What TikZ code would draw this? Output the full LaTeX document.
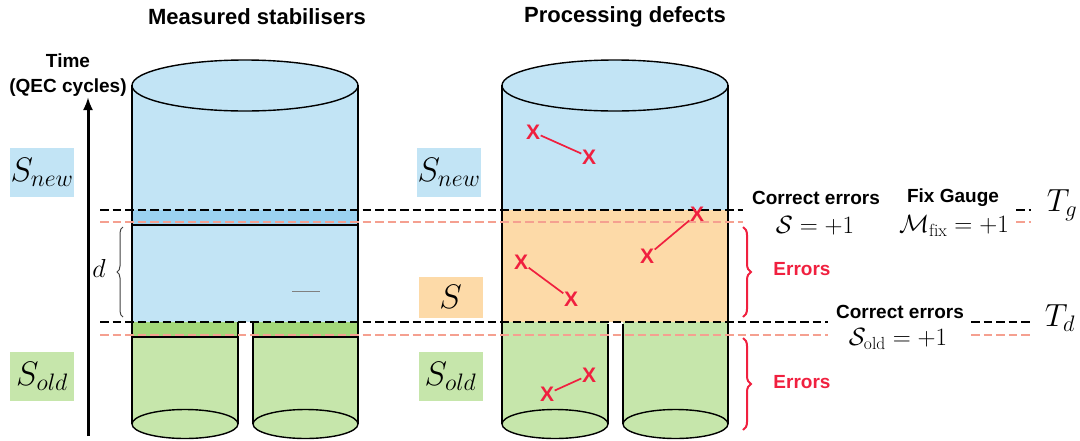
\documentclass[tikz,border=0pt]{standalone}
\usepackage{fix-cm}
\usepackage{amsmath}
\usepackage{amssymb}
\usepackage{fontspec}
\newfontfamily\arialfont{Liberation Sans}
\usepackage{xcolor}
\usepackage{tikz}
\usetikzlibrary{arrows.meta}
\usetikzlibrary{decorations.pathreplacing}
\definecolor{newblue}{HTML}{C2E4F5}
\definecolor{bandblue}{HTML}{9BD2F0}
\definecolor{oldgreen}{HTML}{C6E6AB}
\definecolor{bandgreen}{HTML}{A4D87A}
\definecolor{gaugeorange}{HTML}{FDDAA8}
\definecolor{errred}{HTML}{F0203F}
\definecolor{cutred}{HTML}{F5A090}
\tikzset{
	label box/.style={minimum width=64pt,minimum height=49pt,inner sep=0pt,font=\fontsize{34}{40}\selectfont},
	head text/.style={font=\fontsize{22}{26}\selectfont\arialfont\bfseries},
	side text/.style={font=\fontsize{19}{25}\selectfont\arialfont\bfseries,align=center},
	eq text/.style={font=\fontsize{25}{30}\selectfont},
	x mark/.style={text=errred,font=\fontsize{21}{24}\selectfont\arialfont\bfseries,inner sep=0.5pt},
	err link/.style={draw=errred,line width=1.7pt},
	black cut/.style={draw=black,line width=2.8pt,dash pattern=on 8.5pt off 4pt},
	red cut/.style={draw=cutred,line width=2.8pt,dash pattern=on 8.5pt off 4pt},
	cyl/.style={draw=black,line width=1.4pt},
	err brace/.style={draw=errred,line width=2pt,decorate,decoration={brace,amplitude=8pt}}
}

\begin{document}
\begin{tikzpicture}[x=1pt,y=-1pt,>={Latex[length=13pt,width=10pt]}]
	\useasboundingbox (0,0) rectangle (1080,440);
	% titles
	\node [head text] (meas) at (257,17) {Measured stabilisers};
	\node [head text] (proc) at (625,17) {Processing defects};
	\node [side text] (time) at (68,75) {Time\\(QEC cycles)};
	\coordinate (tbase) at (88,436);
	\coordinate (ttop) at (88,97);
	\draw [->,line width=3pt] (tbase) -- (ttop);

	% left cylinder
	\fill [newblue] (132,85) rectangle (358,322);
	\fill [bandblue] (132,210) rectangle (358,225);
	\fill [oldgreen] (132,322) rectangle (238,424);
	\fill [oldgreen] (253,322) rectangle (358,424);
	\fill [bandgreen] (132,322) rectangle (238,337);
	\fill [bandgreen] (253,322) rectangle (358,337);
	\draw [cyl,fill=oldgreen] (185,424) ellipse (53 and 14.5);
	\draw [cyl,fill=oldgreen] (305.5,424) ellipse (52.5 and 14.5);
	\draw [cyl,fill=newblue] (245,85.5) ellipse (113 and 25.5);
	\draw [cyl] (132,85) -- (132,424) (358,85) -- (358,424)
		(238,322) -- (238,424) (253,322) -- (253,424);
	\draw [cyl] (132,225) -- (358,225);
	\draw [cyl] (132,337) -- (238,337) (253,337) -- (358,337);
	\draw [gray,line width=0.8pt] (292,291) -- (320,291);

	% right cylinder
	\fill [newblue] (502,85) rectangle (728,210);
	\fill [gaugeorange] (502,210) rectangle (728,322);
	\fill [oldgreen] (502,322) rectangle (608,424);
	\fill [oldgreen] (623,322) rectangle (728,424);
	\draw [cyl,fill=oldgreen] (555,424) ellipse (53 and 14.5);
	\draw [cyl,fill=oldgreen] (675.5,424) ellipse (52.5 and 14.5);
	\draw [cyl,fill=newblue] (615,85.5) ellipse (113 and 25.5);
	\draw [cyl] (502,85) -- (502,424) (728,85) -- (728,424)
		(608,324) -- (608,424) (623,324) -- (623,424);

	% cuts
	\draw [black cut] (100,210) -- (743,210) (1016,210) -- (1031,210);
	\draw [red cut] (100,222) -- (743,222) (1016,222) -- (1031,222);
	\draw [black cut] (100,322) -- (828,322) (971,322) -- (1031,322);
	\draw [red cut] (100,335) -- (828,335) (971,335) -- (1031,335);

	% labels
	\node [label box,fill=newblue] (snewl) at (42,172) {$S_{new}$};
	\node [label box,fill=oldgreen] (soldl) at (42,376) {$S_{old}$};
	\node [label box,fill=newblue] (snewr) at (449,172) {$S_{new}$};
	\node [label box,fill=gaugeorange,minimum height=41pt] (sr) at (450.5,297) {$S$};
	\node [label box,fill=oldgreen] (soldr) at (450.5,376) {$S_{old}$};

	\draw [draw=black!75,line width=1pt,decorate,decoration={brace,amplitude=6pt}] (123,317) -- (123,227);
	\node [font=\fontsize{26}{30}\selectfont] (dd) at (99,268) {$d$};

	% defects
	\node [x mark] (xa) at (533,132) {X};
	\node [x mark] (xb) at (589,157) {X};
	\node [x mark] (xc) at (697,214) {X};
	\node [x mark] (xd) at (647,256) {X};
	\node [x mark] (xe) at (521,262) {X};
	\node [x mark] (xf) at (571,299) {X};
	\node [x mark] (xg) at (547,394) {X};
	\node [x mark] (xh) at (589,375) {X};
	\draw [err link] (xa) -- (xb);
	\draw [err link] (xc) -- (xd);
	\draw [err link] (xe) -- (xf);
	\draw [err link] (xg) -- (xh);

	\draw [err brace] (743,227) -- (743,317);
	\draw [err brace] (743,338) -- (743,430);
	\node [side text,text=errred] (err1) at (802,269) {Errors};
	\node [side text,text=errred] (err2) at (802,382) {Errors};

	% right text
	\node [side text] (corr1) at (816,198) {Correct errors};
	\node [eq text] (eq1) at (815,226) {$\mathcal{S}=+1$};
	\node [side text] (fix) at (953,198) {Fix Gauge};
	\node [eq text] (eq2) at (954,226) {$\mathcal{M}_{\mathrm{fix}}=+1$};
	\node [side text] (corr2) at (900,312) {Correct errors};
	\node [eq text] (eq3) at (898,339) {$\mathcal{S}_{\mathrm{old}}=+1$};
	\node [font=\fontsize{32}{36}\selectfont] (tg) at (1062,205) {$T_g$};
	\node [font=\fontsize{32}{36}\selectfont] (td) at (1060,318) {$T_d$};
\end{tikzpicture}
\end{document}
